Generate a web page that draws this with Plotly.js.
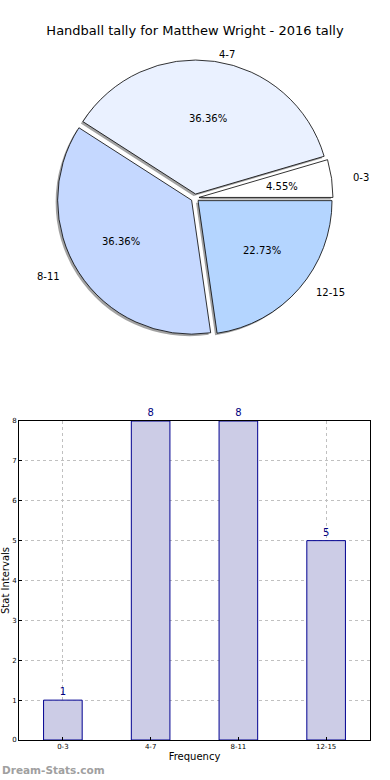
<!DOCTYPE html>
<html>
<head>
<meta charset="utf-8">
<script src="https://cdn.plot.ly/plotly-3.0.1.min.js"></script>
<style>html,body{margin:0;padding:0;background:#fff;}#chart{width:390px;height:780px;}</style>
</head>
<body>
<div id="chart"></div>
<script>
// ---- data ----
const categories = ['0-3', '4-7', '8-11', '12-15'];
const counts = [1, 8, 8, 5];
const chartTitle = 'Handball tally for Matthew Wright - 2016 tally';
const xTitle = 'Frequency';
const yTitle = 'Stat Intervals';
const yTicks = [0, 1, 2, 3, 4, 5, 6, 7, 8];
const watermark = 'Dream-Stats.com';

// ---- styles ----
const pieColors = ['#ffffff', '#eaf1ff', '#c5d8ff', '#b4d5ff'];
const font = 'DejaVu Sans, sans-serif';
const W = 390, H = 780;
const px = v => v / W, py = v => 1 - v / H;

const total = counts.reduce((a, b) => a + b, 0);
// first slice starts at 3 o'clock, going counterclockwise (Plotly anchors the end of the first slice)
const rot = 90 - 360 * counts[0] / total;

const pull = 0.03;
const pieL = 57, pieR = 333, pieT = 60, pieB = 336;
const pieX = [px(pieL), px(pieR)];
const pieY = [py(pieB), py(pieT)];
const sh = 2;

const common = {
  type: 'pie', values: counts, labels: categories, sort: false,
  direction: 'counterclockwise', rotation: rot,
  pull: categories.map(() => pull), showlegend: false
};

const shadow = Object.assign({}, common, {
  marker: {colors: categories.map(() => 'rgba(100,100,100,0.6)'), line: {width: 0}},
  textinfo: 'none', hoverinfo: 'skip',
  domain: {x: [pieX[0] - px(sh), pieX[1] - px(sh)], y: [pieY[0] - sh / H, pieY[1] - sh / H]}
});
const pie = Object.assign({}, common, {
  marker: {colors: pieColors, line: {color: '#000', width: 0.8}},
  textinfo: 'none',
  domain: {x: pieX, y: pieY}
});

// text placed matplotlib-style: percent at 0.6 r, label at 1.1 r, along each slice's mid angle
const cx = (pieL + pieR) / 2, cy = (pieT + pieB) / 2;
const r = (pieR - pieL) / 2 / (1 + pull);
const rx = 140, ry = 128; // text radii (reference pie is slightly wider than tall)
const pieText = [];
let cum = 0;
counts.forEach((v, i) => {
  const mid = (cum + v / 2) / total * 2 * Math.PI;
  cum += v;
  const c = Math.cos(mid), s = Math.sin(mid);
  const ox = cx + pull * r * c, oy = cy - pull * r * s;
  pieText.push({
    text: (100 * v / total).toFixed(2) + '%', xref: 'paper', yref: 'paper',
    x: px(ox + 0.6 * rx * c), y: py(oy - 0.6 * ry * s), xanchor: 'center', yanchor: 'middle',
    showarrow: false, font: {family: font, size: 10, color: '#000'}
  });
  pieText.push({
    text: categories[i], xref: 'paper', yref: 'paper',
    x: px(ox + 1.1 * rx * c), y: py(oy - 1.1 * ry * s), xanchor: c >= 0 ? 'left' : 'right', yanchor: 'middle',
    showarrow: false, font: {family: font, size: 10, color: '#000'}
  });
});

const bars = {
  type: 'bar', x: categories, y: counts, width: 0.44,
  marker: {color: '#cccce6', line: {color: '#000090', width: 1}},
  text: counts.map(String), textposition: 'outside', cliponaxis: false,
  textfont: {family: font, size: 10, color: '#000080'},
  xaxis: 'x', yaxis: 'y', showlegend: false
};

const layout = {
  width: W, height: H,
  margin: {l: 0, r: 0, t: 0, b: 0},
  paper_bgcolor: '#fff', plot_bgcolor: '#fff',
  font: {family: font, color: '#000'},
  title: {text: chartTitle, x: 0.5, xanchor: 'center', y: py(30), yanchor: 'middle', yref: 'paper',
          font: {family: font, size: 13, color: '#000'}},
  xaxis: {
    domain: [px(19), px(370)], anchor: 'y', range: [-0.5, 3.5],
    tickfont: {family: font, size: 7, color: '#000'},
    showgrid: true, gridcolor: '#c0c0c0', griddash: 'dot', gridwidth: 1,
    showline: true, linecolor: '#000', linewidth: 1, mirror: true,
    ticks: 'inside', ticklen: 3, tickcolor: '#000',
    title: {text: xTitle, font: {family: font, size: 10, color: '#000'}, standoff: 2},
    zeroline: false, fixedrange: true
  },
  yaxis: {
    domain: [py(740), py(421)], anchor: 'x', range: [0, 8],
    tickvals: yTicks, ticktext: yTicks.map(String),
    tickfont: {family: font, size: 7, color: '#000'},
    showgrid: true, gridcolor: '#c0c0c0', griddash: 'dot', gridwidth: 1,
    showline: true, linecolor: '#000', linewidth: 1, mirror: true,
    ticks: 'inside', ticklen: 3, tickcolor: '#000',
    title: {text: yTitle, font: {family: font, size: 10, color: '#000'}, standoff: 2},
    zeroline: false, fixedrange: true
  },
  annotations: pieText.concat([{
    text: '<b>' + watermark + '</b>', xref: 'paper', yref: 'paper', x: 0, y: py(770), xanchor: 'left', yanchor: 'middle',
    showarrow: false, font: {family: font, size: 10.5, color: '#a0a0a0'}
  }])
};

Plotly.newPlot('chart', [shadow, pie, bars], layout, {displayModeBar: false, staticPlot: true});
</script>
</body>
</html>
